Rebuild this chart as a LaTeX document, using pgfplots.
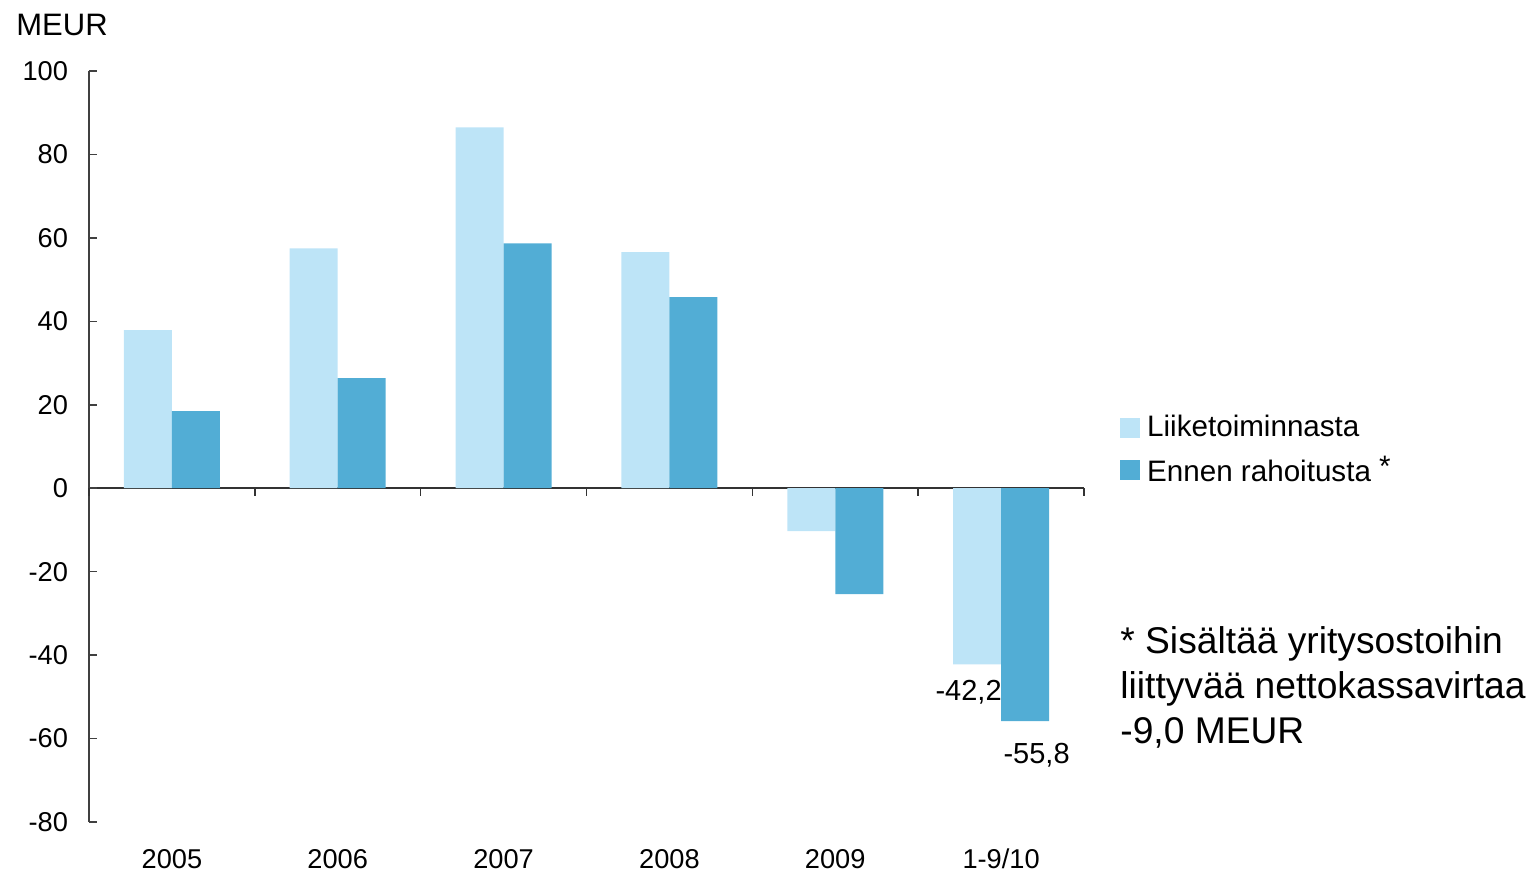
\documentclass[border=0pt]{standalone}
\usepackage{fontspec}
\setmainfont{Liberation Sans}
\usepackage{pgfplots}
\pgfplotsset{compat=1.18}
\definecolor{lightb}{RGB}{189,228,247}
\definecolor{darkb}{RGB}{82,173,213}
\begin{document}
\begin{tikzpicture}
\useasboundingbox (-44.5pt,-26pt) rectangle (722pt,411pt);
\begin{axis}[
  at={(0pt,0pt)}, anchor=south west,
  scale only axis,
  width=497.5pt, height=375.5pt,
  xmin=-0.5, xmax=5.5, ymin=-80, ymax=100,
  axis y line*=left,
  axis x line*=bottom,
  x axis line style={draw=none},
  y axis line style={black!75, line width=0.8pt},
  ybar=0pt, bar width=24pt,
  xtick={0,1,2,3,4,5},
  xticklabels={2005,2006,2007,2008,2009,1-9/10},
  major x tick style={draw=none},
  xticklabel style={yshift=-6pt},
  ytick={-80,-60,-40,-20,0,20,40,60,80,100},
  ytick align=inside,
  major tick length=4pt,
  y tick style={black!75, line width=0.8pt},
  yticklabel style={xshift=-7pt},
  extra y ticks={0},
  extra y tick labels={},
  extra y tick style={grid=major, major grid style={black!80, line width=0.8pt}},
  tick label style={font=\fontsize{13.6}{15}\selectfont},
  /pgf/number format/assume math mode=true,
  legend style={at={(1.036,0.546)}, anchor=north west, draw=none, fill=none,
    font=\fontsize{14.8}{17}\selectfont, row sep=5pt, inner sep=0pt,
    nodes={inner sep=1.5pt}},
  legend cell align=left,
  legend image code/.code={\fill[#1] (0pt,-5pt) rectangle (10pt,5pt); \path (12pt,0pt);},
  clip=false,
]
\addplot[fill=lightb, draw=none] coordinates {(0,37.9) (1,57.5) (2,86.5) (3,56.6) (4,-10.3) (5,-42.2)};
\addplot[fill=darkb, draw=none] coordinates {(0,18.5) (1,26.4) (2,58.7) (3,45.8) (4,-25.4) (5,-55.8)};
\legend{Liiketoiminnasta, Ennen rahoitusta \raisebox{2.5pt}{*}}
\pgfplotsinvokeforeach{-0.5,0.5,1.5,2.5,3.5,4.5,5.5}{
  \draw[black!80, line width=0.8pt] (axis cs:#1,0) -- ++(0pt,-4pt);
}
\node[anchor=east, font=\fontsize{14.5}{16}\selectfont, inner sep=0pt] at ([xshift=0.5pt,yshift=-14pt]axis cs:5,-42.2) {-42,2};
\node[anchor=center, font=\fontsize{14.5}{16}\selectfont, inner sep=0pt] at ([xshift=17.75pt,yshift=-17pt]axis cs:5,-55.8) {-55,8};
\end{axis}
\node[anchor=base west, inner sep=0pt, font=\fontsize{15.5}{17}\selectfont] at (-36.5pt,393pt) {MEUR};
\node[anchor=north west, inner sep=0pt, align=left, font=\fontsize{18.6}{22.5}\selectfont] at (515.5pt,98pt) {* Sisältää yritysostoihin\\liittyvää nettokassavirtaa\\-9,0 MEUR};
\end{tikzpicture}
\end{document}
